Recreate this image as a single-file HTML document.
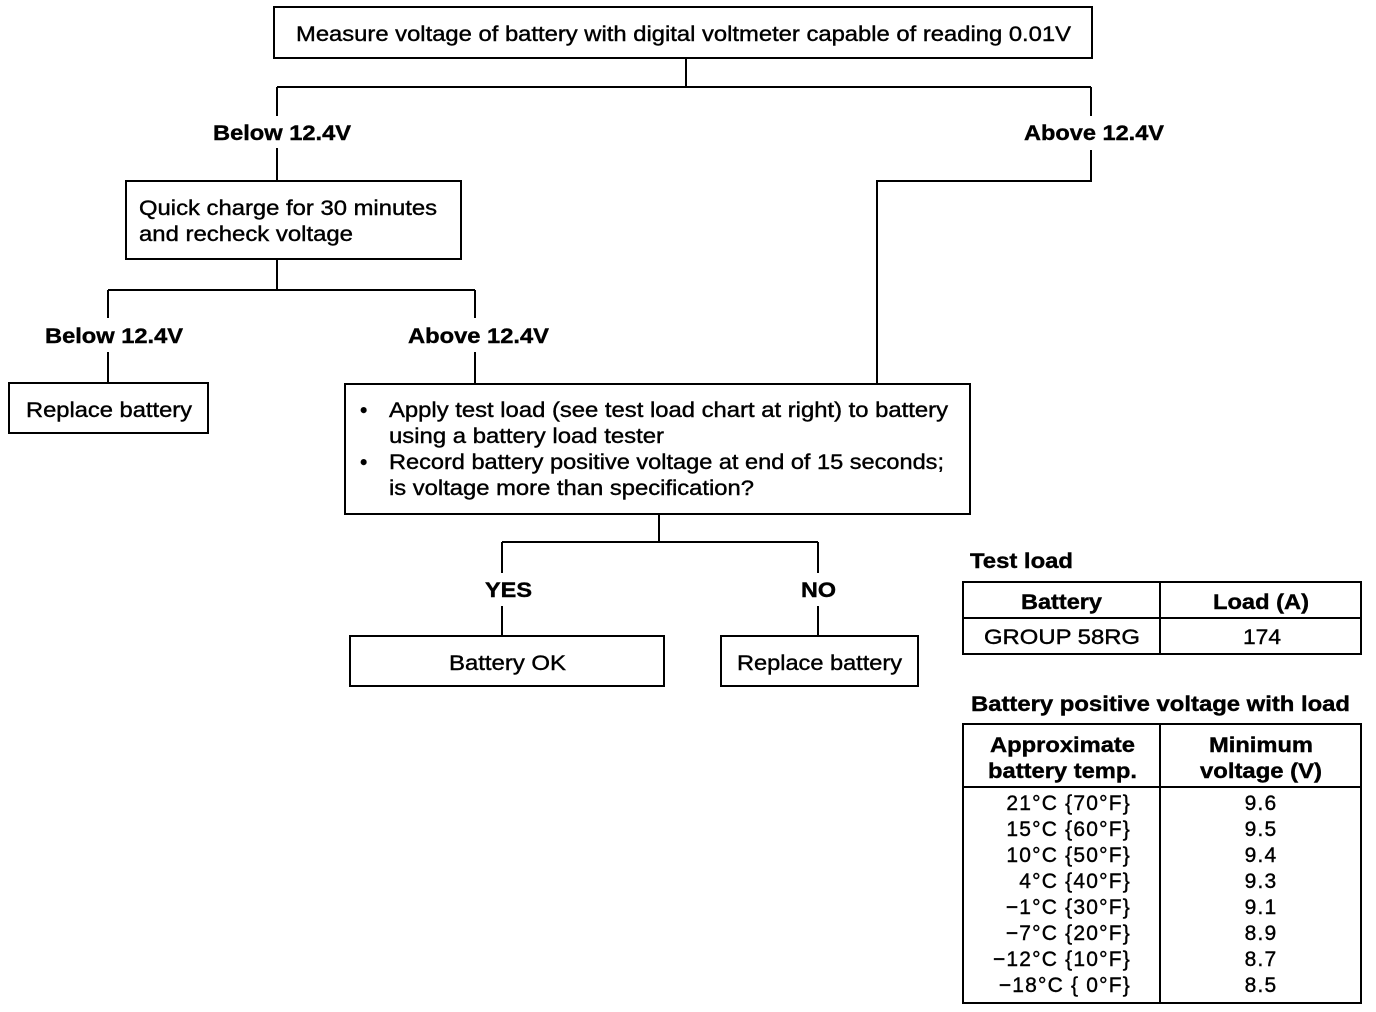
<!DOCTYPE html><html><head><style>body{margin:0;background:#fff}svg{display:block}text{font-family:"Liberation Sans",sans-serif;font-size:21px;fill:#000;stroke:#000;stroke-width:0.4}.b{font-weight:bold}.r{letter-spacing:1.2px}</style></head><body>
<svg width="1376" height="1012" viewBox="0 0 1376 1012">
<g fill="none" stroke="#000" stroke-width="2">
<rect x="274" y="7" width="818" height="51"/>
<rect x="126" y="181" width="335" height="78"/>
<rect x="9" y="383" width="199" height="50"/>
<rect x="345" y="384" width="625" height="130"/>
<rect x="350" y="636" width="314" height="50"/>
<rect x="721" y="636" width="197" height="50"/>
<rect x="963" y="582" width="398" height="72"/>
<line x1="1160" y1="582" x2="1160" y2="654"/><line x1="963" y1="618" x2="1361" y2="618"/>
<rect x="963" y="724" width="398" height="279"/>
<line x1="1160" y1="724" x2="1160" y2="1003"/><line x1="963" y1="787" x2="1361" y2="787"/>
<path d="M686 58V87M277 87H1091M277 87V116M1091 87V116M277 148V181M1091 150V181H877V384M277 259V290M108 290H475M108 290V318M475 290V318M108 352V383M475 352V384M659 514V542M502 542H818M502 542V573M818 542V573M502 606V636M818 606V636"/>
</g>
<text x="296" y="41" textLength="775" lengthAdjust="spacingAndGlyphs">Measure voltage of battery with digital voltmeter capable of reading 0.01V</text>
<text class="b" x="213" y="140" textLength="138" lengthAdjust="spacingAndGlyphs">Below 12.4V</text>
<text class="b" x="1024" y="140" textLength="140" lengthAdjust="spacingAndGlyphs">Above 12.4V</text>
<text x="139" y="215" textLength="298" lengthAdjust="spacingAndGlyphs">Quick charge for 30 minutes</text>
<text x="139" y="241" textLength="214" lengthAdjust="spacingAndGlyphs">and recheck voltage</text>
<text class="b" x="45" y="343" textLength="138" lengthAdjust="spacingAndGlyphs">Below 12.4V</text>
<text class="b" x="408" y="343" textLength="141" lengthAdjust="spacingAndGlyphs">Above 12.4V</text>
<text x="26" y="417" textLength="166" lengthAdjust="spacingAndGlyphs">Replace battery</text>
<text x="360" y="417">•</text><text x="389" y="417" textLength="559" lengthAdjust="spacingAndGlyphs">Apply test load (see test load chart at right) to battery</text>
<text x="389" y="443" textLength="275" lengthAdjust="spacingAndGlyphs">using a battery load tester</text>
<text x="360" y="469">•</text><text x="389" y="469" textLength="555" lengthAdjust="spacingAndGlyphs">Record battery positive voltage at end of 15 seconds;</text>
<text x="389" y="495" textLength="365" lengthAdjust="spacingAndGlyphs">is voltage more than specification?</text>
<text class="b" x="485" y="597" textLength="47" lengthAdjust="spacingAndGlyphs">YES</text>
<text class="b" x="801" y="597" textLength="35" lengthAdjust="spacingAndGlyphs">NO</text>
<text x="449" y="670" textLength="117" lengthAdjust="spacingAndGlyphs">Battery OK</text>
<text x="737" y="670" textLength="165" lengthAdjust="spacingAndGlyphs">Replace battery</text>
<text class="b" x="970" y="568" textLength="103" lengthAdjust="spacingAndGlyphs">Test load</text>
<text class="b" x="1021" y="609" textLength="81" lengthAdjust="spacingAndGlyphs">Battery</text>
<text class="b" x="1213" y="609" textLength="96" lengthAdjust="spacingAndGlyphs">Load (A)</text>
<text x="984" y="644" textLength="156" lengthAdjust="spacingAndGlyphs">GROUP 58RG</text>
<text x="1243" y="644" textLength="38" lengthAdjust="spacingAndGlyphs">174</text>
<text class="b" x="971" y="711" textLength="379" lengthAdjust="spacingAndGlyphs">Battery positive voltage with load</text>
<text class="b" x="990" y="752" textLength="145" lengthAdjust="spacingAndGlyphs">Approximate</text>
<text class="b" x="988" y="778" textLength="149" lengthAdjust="spacingAndGlyphs">battery temp.</text>
<text class="b" x="1209" y="752" textLength="104" lengthAdjust="spacingAndGlyphs">Minimum</text>
<text class="b" x="1200" y="778" textLength="122" lengthAdjust="spacingAndGlyphs">voltage (V)</text>
<g text-anchor="end" class="r">
<text x="1131" y="810">21°C {70°F}</text><text x="1131" y="836">15°C {60°F}</text><text x="1131" y="862">10°C {50°F}</text><text x="1131" y="888">4°C {40°F}</text><text x="1131" y="914">−1°C {30°F}</text><text x="1131" y="940">−7°C {20°F}</text><text x="1131" y="966">−12°C {10°F}</text><text x="1131" y="992">−18°C {  0°F}</text>
</g>
<g text-anchor="middle" class="r">
<text x="1261" y="810">9.6</text><text x="1261" y="836">9.5</text><text x="1261" y="862">9.4</text><text x="1261" y="888">9.3</text><text x="1261" y="914">9.1</text><text x="1261" y="940">8.9</text><text x="1261" y="966">8.7</text><text x="1261" y="992">8.5</text>
</g>
</svg></body></html>
